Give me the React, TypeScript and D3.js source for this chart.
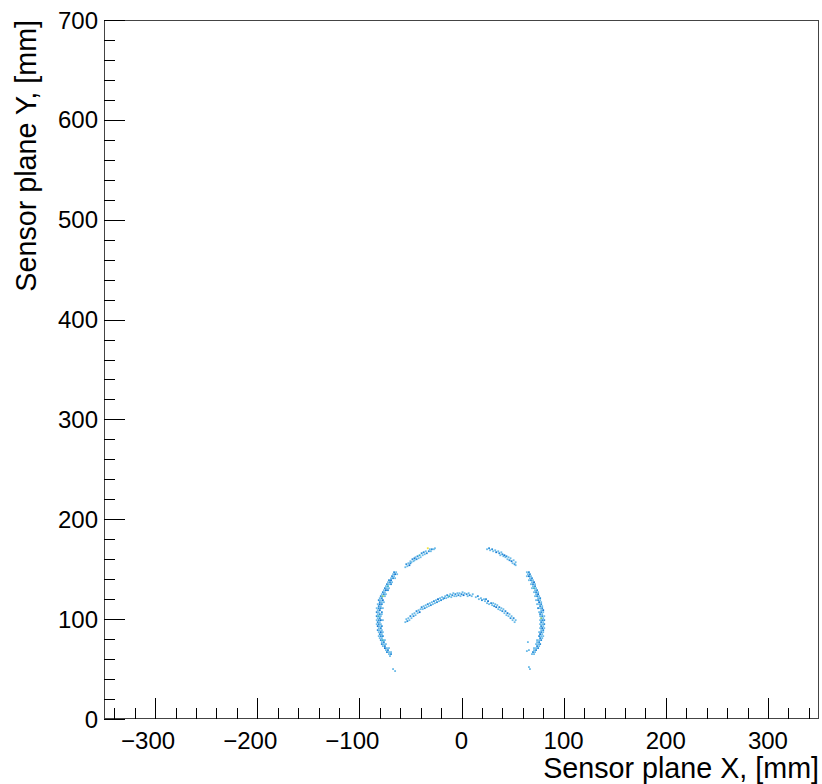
import React, { useEffect, useRef } from "react";
import * as d3 from "d3";

// histogram cells: [x mm, y mm, count]
const leftArc = [
  [-64, 147, 1], [-66, 147, 2], [-67, 145, 1], [-65, 145, 3], [-63, 145, 1], [-68, 143, 2], [-66, 143, 1],
  [-69, 141, 1], [-67, 141, 2], [-65, 141, 1], [-71, 139, 2], [-69, 139, 3], [-72, 137, 1], [-70, 137, 2],
  [-68, 137, 1], [-73, 135, 2], [-71, 135, 1], [-69, 135, 2], [-74, 133, 1], [-72, 133, 4], [-75, 131, 2],
  [-73, 131, 1], [-71, 131, 1], [-76, 129, 1], [-74, 129, 3], [-72, 129, 2], [-77, 127, 2], [-75, 127, 1],
  [-78, 125, 1], [-76, 125, 2], [-74, 125, 1], [-79, 123, 2], [-77, 123, 5], [-75, 123, 1], [-80, 121, 1],
  [-78, 121, 2], [-81, 119, 2], [-79, 119, 1], [-77, 119, 3], [-80, 117, 2], [-78, 117, 1], [-76, 117, 1],
  [-82, 115, 1], [-80, 115, 3], [-78, 115, 2], [-81, 113, 2], [-79, 113, 1], [-83, 111, 1], [-81, 111, 2],
  [-79, 111, 2], [-77, 111, 1], [-82, 109, 1], [-80, 109, 3], [-83, 107, 2], [-81, 107, 1], [-78, 107, 2],
  [-82, 105, 1], [-80, 105, 2], [-78, 105, 1], [-83, 103, 2], [-81, 103, 4], [-79, 103, 1], [-82, 101, 1],
  [-80, 101, 2], [-83, 99, 1], [-81, 99, 2], [-79, 99, 3], [-77, 99, 1], [-82, 97, 2], [-80, 97, 1],
  [-83, 95, 1], [-81, 95, 2], [-79, 95, 1], [-82, 93, 3], [-80, 93, 1], [-78, 93, 2], [-81, 91, 1],
  [-79, 91, 2], [-82, 89, 2], [-80, 89, 1], [-78, 89, 1], [-81, 87, 1], [-79, 87, 3], [-77, 87, 1],
  [-80, 85, 2], [-78, 85, 1], [-81, 83, 1], [-79, 83, 2], [-77, 83, 2], [-80, 81, 1], [-78, 81, 1],
  [-79, 79, 2], [-77, 79, 4], [-75, 79, 1], [-78, 77, 1], [-76, 77, 2], [-78, 75, 2], [-76, 75, 1],
  [-74, 75, 1], [-77, 73, 1], [-75, 73, 2], [-75, 71, 3], [-73, 71, 1], [-71, 71, 1], [-74, 69, 1],
  [-72, 69, 2], [-73, 67, 2], [-71, 67, 1], [-69, 67, 1], [-71, 65, 1], [-69, 65, 2], [-70, 63, 1],
  [-67, 50, 1], [-65, 48, 1],
];

const rightArc = [
  [64, 147, 1], [66, 147, 2], [65, 145, 1], [67, 145, 2], [66, 143, 3], [68, 143, 1], [64, 143, 1],
  [67, 141, 1], [69, 141, 2], [68, 139, 2], [70, 139, 1], [66, 139, 1], [69, 137, 1], [71, 137, 3],
  [70, 135, 2], [72, 135, 1], [68, 135, 1], [70, 133, 1], [72, 133, 2], [71, 131, 4], [73, 131, 1],
  [69, 131, 1], [72, 129, 1], [74, 129, 2], [73, 127, 2], [71, 127, 1], [75, 127, 1], [73, 125, 1],
  [75, 125, 3], [74, 123, 2], [76, 123, 1], [72, 123, 1], [75, 121, 1], [77, 121, 2], [75, 119, 2],
  [77, 119, 1], [73, 119, 1], [76, 117, 3], [78, 117, 1], [76, 115, 1], [78, 115, 2], [74, 115, 1],
  [77, 113, 2], [79, 113, 1], [77, 111, 1], [79, 111, 2], [75, 111, 2], [78, 109, 1], [80, 109, 3],
  [78, 107, 2], [76, 107, 1], [80, 107, 1], [79, 105, 1], [77, 105, 2], [79, 103, 2], [81, 103, 1],
  [77, 103, 1], [78, 101, 5], [80, 101, 1], [79, 99, 2], [77, 99, 1], [81, 99, 2], [80, 97, 1],
  [78, 97, 2], [79, 95, 1], [81, 95, 2], [77, 95, 1], [78, 93, 2], [80, 93, 1], [79, 91, 3],
  [77, 91, 1], [81, 91, 1], [78, 89, 1], [80, 89, 2], [78, 87, 2], [76, 87, 1], [80, 87, 1],
  [79, 85, 1], [77, 85, 3], [78, 83, 1], [76, 83, 2], [80, 83, 1], [77, 81, 2], [79, 81, 1],
  [76, 79, 1], [78, 79, 2], [74, 79, 1], [76, 77, 2], [74, 77, 1], [75, 75, 1], [77, 75, 2],
  [73, 75, 1], [74, 73, 2], [76, 73, 1], [73, 71, 1], [75, 71, 2], [71, 71, 1], [73, 69, 2],
  [71, 69, 1], [72, 67, 1], [70, 67, 2], [71, 65, 1], [69, 65, 1],
  [65, 77, 1], [66, 69, 1], [64, 68, 1], [66, 52, 1], [67, 50, 1],
];

const topLeftArc = [
  [-55, 152, 1], [-54, 155, 2], [-53, 153, 1], [-52, 156, 1], [-51, 154, 3], [-50, 158, 1], [-50, 156, 2],
  [-49, 157, 1], [-48, 160, 2], [-47, 158, 1], [-46, 161, 3], [-46, 159, 1], [-45, 162, 1], [-44, 160, 2],
  [-43, 163, 2], [-42, 161, 1], [-41, 164, 4], [-40, 162, 1], [-39, 166, 2], [-38, 164, 1], [-37, 167, 2],
  [-36, 165, 1], [-35, 168, 1], [-34, 166, 2], [-33, 171, 7], [-32, 168, 2], [-31, 170, 1], [-30, 168, 1],
  [-29, 170, 2], [-27, 170, 1], [-26, 171, 1],
];

const topRightArc = [
  [25, 170, 1], [27, 171, 2], [28, 169, 1], [30, 170, 2], [31, 168, 1], [33, 169, 1], [34, 167, 3],
  [36, 168, 1], [37, 166, 2], [38, 164, 1], [39, 167, 1], [40, 165, 2], [41, 163, 1], [42, 164, 3],
  [43, 162, 1], [44, 163, 2], [45, 160, 1], [46, 162, 1], [47, 159, 2], [48, 161, 1], [49, 158, 3],
  [50, 156, 1], [51, 159, 1], [52, 155, 2], [53, 157, 1], [53, 154, 1],
];

const innerArc = [
  [-55, 97, 1], [-54, 100, 1], [-53, 98, 2], [-52, 101, 1], [-51, 99, 1], [-50, 103, 2], [-49, 101, 1],
  [-48, 105, 1], [-47, 103, 2], [-46, 106, 1], [-45, 104, 1], [-44, 108, 2], [-43, 106, 1], [-42, 109, 1],
  [-41, 107, 3], [-40, 110, 1], [-39, 112, 2], [-38, 110, 1], [-37, 113, 1], [-36, 111, 2], [-35, 114, 1],
  [-34, 112, 1], [-33, 115, 2], [-32, 113, 1], [-31, 116, 1], [-30, 114, 2], [-29, 117, 1], [-28, 115, 1],
  [-27, 118, 2], [-26, 116, 1], [-25, 119, 1], [-24, 117, 2], [-23, 120, 3], [-22, 118, 1], [-21, 121, 1],
  [-20, 119, 2], [-19, 122, 1], [-18, 120, 1], [-17, 121, 2], [-16, 123, 1], [-15, 121, 1], [-14, 124, 2],
  [-13, 122, 1], [-12, 123, 4], [-11, 125, 1], [-10, 122, 1], [-9, 124, 2], [-8, 126, 1], [-7, 123, 1],
  [-6, 125, 2], [-5, 123, 1], [-4, 126, 1], [-3, 124, 2], [-2, 126, 1], [-1, 123, 1], [0, 125, 2],
  [1, 127, 1], [2, 124, 3], [3, 126, 1], [5, 125, 2], [6, 123, 1], [7, 126, 1], [8, 124, 2],
  [10, 123, 1], [11, 125, 1], [14, 122, 1], [16, 123, 2], [17, 120, 1], [19, 121, 1], [20, 119, 2],
  [22, 120, 1], [23, 118, 1], [24, 120, 2], [25, 116, 1], [26, 118, 3], [27, 115, 1], [29, 116, 2],
  [30, 114, 1], [31, 116, 1], [32, 113, 2], [33, 115, 1], [34, 112, 3], [35, 114, 1], [36, 110, 1],
  [37, 112, 2], [38, 109, 1], [39, 111, 1], [40, 108, 2], [41, 110, 1], [42, 106, 1], [43, 108, 2],
  [44, 104, 1], [45, 106, 3], [46, 103, 1], [47, 105, 1], [48, 101, 2], [49, 103, 1], [50, 99, 1],
  [51, 101, 2], [52, 97, 1], [53, 99, 1],
];

const xTicks = [-300, -200, -100, 0, 100, 200, 300];
const yTicks = [0, 100, 200, 300, 400, 500, 600, 700];
const countLevels = [1, 2, 3, 4, 5, 6, 7];
const countColors = ["#6cbbe8", "#2a90da", "#1479d2", "#35b2c9", "#7fc67c", "#cdd25a", "#f3e23a"];

const W = 822;
const H = 784;
const font = "'Liberation Sans', Arial, Helvetica, sans-serif";

function App() {
  const ref = useRef<SVGSVGElement>(null);

  useEffect(() => {
    const svg = d3.select(ref.current);
    svg.selectAll("*").remove();

    const x = d3.scaleLinear().domain([-350, 350]).range([104, 819]);
    const y = d3.scaleLinear().domain([0, 700]).range([719, 20]);
    const color = d3.scaleLinear<string>().domain(countLevels).range(countColors);

    svg.append("rect").attr("width", W).attr("height", H).attr("fill", "white");

    // cells
    const cells = [...leftArc, ...rightArc, ...topLeftArc, ...topRightArc, ...innerArc];
    const bin = 1.8;
    svg.append("g")
      .selectAll("rect")
      .data(cells)
      .enter()
      .append("rect")
      .attr("x", (d) => x(d[0] - bin / 2))
      .attr("y", (d) => y(d[1] + bin / 2))
      .attr("width", x(bin) - x(0))
      .attr("height", y(0) - y(bin))
      .attr("fill", (d) => color(d[2]));

    // frame
    svg.append("rect")
      .attr("x", x(-350) + 0.5)
      .attr("y", y(700) + 0.5)
      .attr("width", x(350) - x(-350) - 1)
      .attr("height", y(0) - y(700) - 1)
      .attr("fill", "none")
      .attr("stroke", "#444")
      .attr("stroke-width", 1);

    // x ticks
    const xMinor = d3.range(-340, 350, 20).filter((v) => v % 100 !== 0);
    const gx = svg.append("g").attr("stroke", "#000").attr("stroke-width", 1);
    gx.selectAll("line.maj")
      .data(xTicks)
      .enter()
      .append("line")
      .attr("x1", (d) => Math.round(x(d)) + 0.5)
      .attr("x2", (d) => Math.round(x(d)) + 0.5)
      .attr("y1", y(0))
      .attr("y2", y(0) - 21);
    gx.selectAll("line.min")
      .data(xMinor)
      .enter()
      .append("line")
      .attr("x1", (d) => Math.round(x(d)) + 0.5)
      .attr("x2", (d) => Math.round(x(d)) + 0.5)
      .attr("y1", y(0))
      .attr("y2", y(0) - 11);

    // y ticks
    const yMinor = d3.range(20, 700, 20).filter((v) => v % 100 !== 0);
    const gy = svg.append("g").attr("stroke", "#000").attr("stroke-width", 1);
    gy.selectAll("line.maj")
      .data(yTicks)
      .enter()
      .append("line")
      .attr("x1", x(-350))
      .attr("x2", x(-350) + 21)
      .attr("y1", (d) => Math.round(y(d)) + 0.5)
      .attr("y2", (d) => Math.round(y(d)) + 0.5);
    gy.selectAll("line.min")
      .data(yMinor)
      .enter()
      .append("line")
      .attr("x1", x(-350))
      .attr("x2", x(-350) + 11)
      .attr("y1", (d) => Math.round(y(d)) + 0.5)
      .attr("y2", (d) => Math.round(y(d)) + 0.5);

    // tick labels
    svg.append("g")
      .selectAll("text")
      .data(xTicks)
      .enter()
      .append("text")
      .text((d) => (d < 0 ? "\u2212" + Math.abs(d) : String(d)))
      .attr("x", (d) => x(d) + (d < 0 ? -7 : 0))
      .attr("y", 749)
      .attr("text-anchor", "middle")
      .attr("font-family", font)
      .attr("font-size", 24);

    svg.append("g")
      .selectAll("text")
      .data(yTicks)
      .enter()
      .append("text")
      .text((d) => String(d))
      .attr("x", 98)
      .attr("y", (d) => y(d) + 8.5)
      .attr("text-anchor", "end")
      .attr("font-family", font)
      .attr("font-size", 24);

    // axis titles
    svg.append("text")
      .text("Sensor plane X, [mm]")
      .attr("x", 819)
      .attr("y", 778)
      .attr("text-anchor", "end")
      .attr("font-family", font)
      .attr("font-size", 28.7);

    svg.append("text")
      .text("Sensor plane Y, [mm]")
      .attr("transform", "translate(36,20) rotate(-90)")
      .attr("text-anchor", "end")
      .attr("font-family", font)
      .attr("font-size", 28.7);
  }, []);

  return (
    <svg
      ref={ref}
      width={W}
      height={H}
      style={{ position: "absolute", left: 0, top: 0, display: "block" }}
    />
  );
}

export default App;
